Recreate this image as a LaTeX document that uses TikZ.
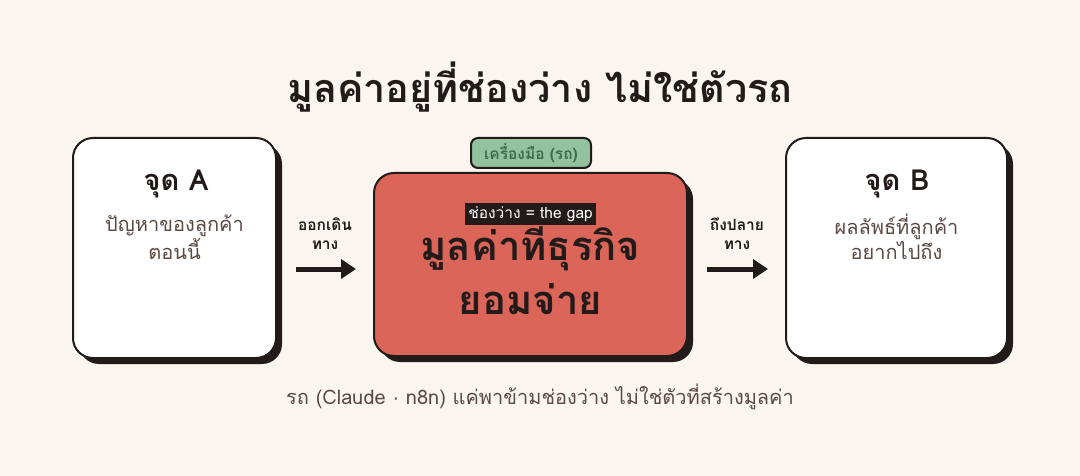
\documentclass[tikz,border=0pt]{standalone}
\usepackage{fontspec}
\setmainfont[Script=Thai]{Loma}
\newfontfamily\dotfont{Liberation Sans}
\usetikzlibrary{shadows,arrows.meta}
\definecolor{bg}{HTML}{FAF5EF}
\definecolor{ink}{HTML}{231A1A}
\definecolor{redbox}{HTML}{DB6558}
\definecolor{tagfill}{HTML}{93C39E}
\definecolor{tagtext}{HTML}{3E6B48}
\definecolor{subtext}{HTML}{5B4A44}
\tikzset{
  card/.style={draw=ink, line width=2pt, rounded corners=20pt, fill=white,
    drop shadow={shadow xshift=6pt, shadow yshift=-6pt, fill=ink, opacity=1}},
  gapbox/.style={card, fill=redbox},
  tagbox/.style={draw=ink, line width=2pt, rounded corners=7pt, fill=tagfill,
    minimum width=120pt, minimum height=30pt, inner sep=0pt,
    text=tagtext, font=\bfseries\fontsize{15.5}{18}\selectfont},
  head/.style={text=ink, font=\bfseries\fontsize{29}{34}\selectfont},
  sub/.style={text=subtext, align=center, font=\fontsize{20}{25}\selectfont},
  flowlbl/.style={text=ink, align=center, font=\bfseries\fontsize{15.5}{19}\selectfont},
  flow/.style={draw=ink, line width=5pt, -{Triangle[length=15pt,width=19pt]}},
}
\begin{document}
\begin{tikzpicture}[x=1pt,y=-1pt]
\fill[bg] (0,0) rectangle (1080,476);
\useasboundingbox (0,0) rectangle (1080,476);

\node[text=ink, font=\bfseries\fontsize{39.5}{46}\selectfont] (title) at (540,87) {มูลค่าอยู่ที่ช่องว่าง ไม่ใช่ตัวรถ};

\node[card, minimum width=203pt, minimum height=220pt] (A) at (174.5,248) {};
\node[card, minimum width=221pt, minimum height=220pt] (B) at (896.5,248) {};
\node[gapbox, minimum width=313pt, minimum height=183pt] (C) at (530.5,264.5) {};
\node[tagbox] (tag) at (531,153) {เครื่องมือ (รถ)};

\node[head] (Ah) at (176,184) {จุด A};
\node[sub] (As) at (174.5,237) {ปัญหาของลูกค้า\\ตอนนี้};
\node[head] (Bh) at (897,184) {จุด B};
\node[sub] (Bs) at (896.5,237) {ผลลัพธ์ที่ลูกค้า\\อยากไปถึง};

\node[fill=ink, text=white, inner xsep=3pt, inner ysep=3pt, font=\fontsize{15.5}{18}\selectfont] (gap) at (530.5,214) {ช่องว่าง = the gap};
\node[text=ink, align=center, font=\bfseries\fontsize{40}{54}\selectfont] (value) at (530.5,267) {มูลค่าที่ธุรกิจ\\ยอมจ่าย};

\node[flowlbl] (l1) at (325,234) {ออกเดิน\\ทาง};
\node[flowlbl] (l2) at (737,234) {ถึงปลาย\\ทาง};
\coordinate (a1s) at (296,269);
\coordinate (a1e) at (356,269);
\coordinate (a2s) at (707,269);
\coordinate (a2e) at (768,269);
\draw[flow] (a1s) -- (a1e);
\draw[flow] (a2s) -- (a2e);

\node[text=subtext, font=\fontsize{20}{24}\selectfont] (foot) at (540,397) {รถ (Claude {\dotfont ·} n8n) แค่พาข้ามช่องว่าง ไม่ใช่ตัวที่สร้างมูลค่า};
\end{tikzpicture}
\end{document}
